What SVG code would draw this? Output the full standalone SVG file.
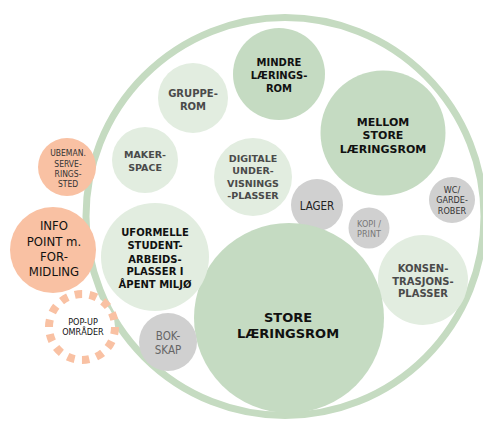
<svg xmlns="http://www.w3.org/2000/svg" width="483" height="423" viewBox="0 0 483 423">
<style>
.bg{fill:#ffffff}
.ring{fill:none;stroke:#c5dbc1;stroke-width:7}
.mid{fill:#c5dbc2}
.lt{fill:#e2ede0}
.gr{fill:#d0d0d0}
.or{fill:#f9c1a3}
.pop{fill:#ffffff;stroke:#f9c1a3;stroke-width:8;stroke-dasharray:7.4 7.4}
text{text-anchor:middle}
.b{font-family:'DejaVu Sans','Verdana',sans-serif;font-weight:bold}
.n{font-family:'DejaVu Sans Condensed','DejaVu Sans',sans-serif;font-stretch:condensed}
.k{fill:#111111}
.d{fill:#4a4a4a}
</style>
<rect class="bg" width="483" height="423"/>
<g id="ring"><circle class="ring" cx="285" cy="216.5" r="199"/></g>
<g id="mindre"><circle class="mid" cx="279" cy="74" r="46"/>
<text class="b k" font-size="10"><tspan x="279" y="66">MINDRE</tspan><tspan x="279" y="79">LÆRINGS-</tspan><tspan x="279" y="92">ROM</tspan></text></g>
<g id="gruppe"><circle class="lt" cx="193" cy="98" r="35"/>
<text class="b d" font-size="10"><tspan x="193" y="97.3">GRUPPE-</tspan><tspan x="193" y="110">ROM</tspan></text></g>
<g id="maker"><circle class="lt" cx="145" cy="160" r="33"/>
<text class="b d" font-size="9.5"><tspan x="145" y="158.3">MAKER-</tspan><tspan x="145" y="170.7">SPACE</tspan></text></g>
<g id="digitale"><circle class="lt" cx="253" cy="177" r="39"/>
<text class="b d" font-size="9.5"><tspan x="253" y="161.7">DIGITALE</tspan><tspan x="253" y="174.3">UNDER-</tspan><tspan x="253" y="187.3">VISNINGS</tspan><tspan x="253" y="199.3">-PLASSER</tspan></text></g>
<g id="mellom"><circle class="mid" cx="383" cy="133" r="62.5"/>
<text class="b k" font-size="11"><tspan x="383" y="125.7">MELLOM</tspan><tspan x="383" y="139.3">STORE</tspan><tspan x="383" y="153.3">LÆRINGSROM</tspan></text></g>
<g id="lager"><circle class="gr" cx="317" cy="205" r="26"/>
<text class="n" fill="#222" font-size="11.5" x="317" y="210">LAGER</text></g>
<g id="kopi"><circle class="gr" cx="369" cy="228" r="20.5"/>
<text class="n" fill="#777" font-size="9"><tspan x="369" y="226.7">KOPI /</tspan><tspan x="369" y="237.3">PRINT</tspan></text></g>
<g id="wc"><circle class="gr" cx="452" cy="200" r="23"/>
<text class="n" fill="#333" font-size="9"><tspan x="452" y="192.7">WC/</tspan><tspan x="452" y="203">GARDE-</tspan><tspan x="452" y="214">ROBER</tspan></text></g>
<g id="konsen"><circle class="lt" cx="423" cy="280" r="45"/>
<text class="b d" font-size="10"><tspan x="423" y="271.7">KONSEN-</tspan><tspan x="423" y="285">TRASJONS-</tspan><tspan x="423" y="297.3">PLASSER</tspan></text></g>
<g id="store"><circle class="mid" cx="289" cy="318" r="95"/>
<text class="b k" font-size="13"><tspan x="288" y="321.7">STORE</tspan><tspan x="288" y="337.7">LÆRINGSROM</tspan></text></g>
<g id="uformelle"><circle class="lt" cx="155" cy="257" r="54"/>
<text class="b k" font-size="10"><tspan x="155" y="236">UFORMELLE</tspan><tspan x="155" y="249.3">STUDENT-</tspan><tspan x="155" y="262.7">ARBEIDS-</tspan><tspan x="155" y="275">PLASSER I</tspan><tspan x="155" y="287.7">ÅPENT MILJØ</tspan></text></g>
<g id="bokskap"><circle class="gr" cx="168" cy="342" r="29"/>
<text class="n" fill="#666" font-size="11.5"><tspan x="168" y="340">BOK-</tspan><tspan x="168" y="354">SKAP</tspan></text></g>
<g id="ubeman"><circle class="or" cx="67" cy="167" r="29"/>
<text class="n" fill="#333" font-size="8.5"><tspan x="68" y="156">UBEMAN.</tspan><tspan x="68" y="166.7">SERVE-</tspan><tspan x="68" y="177.3">RINGS-</tspan><tspan x="68" y="187.3">STED</tspan></text></g>
<g id="info"><circle class="or" cx="53" cy="250" r="43"/>
<text class="n" fill="#111" font-size="13"><tspan x="54" y="230">INFO</tspan><tspan x="54" y="245.7">POINT m.</tspan><tspan x="54" y="260.7">FOR-</tspan><tspan x="54" y="276">MIDLING</tspan></text></g>
<g id="popup"><circle class="pop" cx="82" cy="327" r="33"/>
<text class="n" fill="#111" font-size="9"><tspan x="83" y="325">POP-UP</tspan><tspan x="83" y="335">OMRÅDER</tspan></text></g>
</svg>
